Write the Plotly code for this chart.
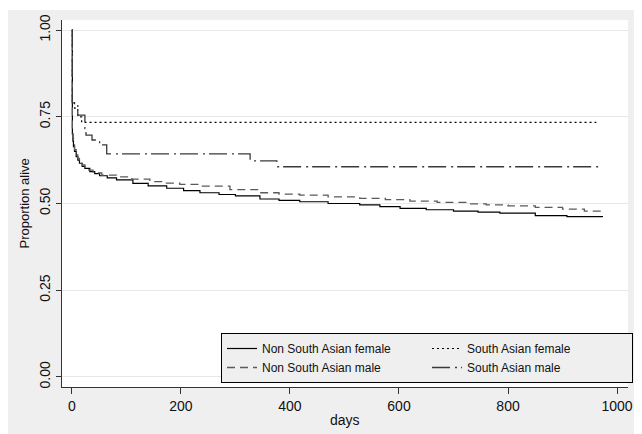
import plotly.graph_objects as go

# Kaplan-Meier survival estimates
nsa_f_days = [0, 1, 2, 3, 5, 8, 11, 14, 19, 24, 33, 42, 51, 65, 82, 112, 140, 174, 205, 235, 270, 300, 345, 380, 418, 470, 528, 565, 602, 650, 700, 745, 785, 850, 908, 973]
nsa_f_surv = [1.0, 0.70, 0.68, 0.664, 0.65, 0.635, 0.625, 0.616, 0.607, 0.601, 0.592, 0.586, 0.58, 0.574, 0.568, 0.558, 0.551, 0.544, 0.537, 0.531, 0.526, 0.522, 0.513, 0.509, 0.505, 0.50, 0.496, 0.491, 0.486, 0.482, 0.478, 0.475, 0.472, 0.465, 0.462, 0.461]

sa_f_days = [0, 1, 5, 11, 18, 962]
sa_f_surv = [1.0, 0.793, 0.775, 0.75, 0.734, 0.734]

nsa_m_days = [0, 1, 2, 3, 5, 8, 11, 14, 19, 24, 31, 39, 55, 82, 110, 143, 170, 198, 235, 290, 345, 380, 418, 470, 528, 575, 620, 670, 724, 760, 800, 850, 900, 940, 973]
nsa_m_surv = [1.0, 0.71, 0.69, 0.672, 0.655, 0.64, 0.63, 0.62, 0.611, 0.605, 0.596, 0.588, 0.582, 0.577, 0.57, 0.563, 0.559, 0.555, 0.55, 0.54, 0.531, 0.527, 0.524, 0.519, 0.515, 0.511, 0.507, 0.503, 0.499, 0.496, 0.493, 0.489, 0.484, 0.478, 0.477]

sa_m_days = [0, 1, 11, 24, 26, 37, 51, 64, 327, 376, 972]
sa_m_surv = [1.0, 0.79, 0.755, 0.716, 0.697, 0.683, 0.669, 0.643, 0.623, 0.606, 0.606]

series_names = ["Non South Asian female", "South Asian female", "Non South Asian male", "South Asian male"]

y_ticks = [0, 0.25, 0.5, 0.75, 1.0]
y_tick_text = ["0.00", "0.25", "0.50", "0.75", "1.00"]
x_ticks = [0, 200, 400, 600, 800, 1000]

x_title = "days"
y_title = "Proportion alive"

styles = [
    dict(color="#000000", width=1.2, dash="solid"),
    dict(color="#000000", width=1.2, dash="2px,3px"),
    dict(color="#5a5a5a", width=1.3, dash="8px,5px"),
    dict(color="#3a3a3a", width=1.3, dash="18px,5px,2px,4px"),
]
data = [(nsa_f_days, nsa_f_surv), (sa_f_days, sa_f_surv), (nsa_m_days, nsa_m_surv), (sa_m_days, sa_m_surv)]

fig = go.Figure()
for (d, s), name, st in zip(data, series_names, styles):
    fig.add_trace(go.Scatter(x=d, y=s, mode="lines", name=name, line=dict(shape="hv", **st)))

font_family = "Liberation Sans, Arial, sans-serif"
W, H = 634, 426

fig.update_layout(
    width=W, height=H,
    margin=dict(l=54, r=14, t=12, b=47, autoexpand=False),
    paper_bgcolor="#efefef",
    plot_bgcolor="white",
    font=dict(family=font_family, size=13, color="#111111"),
    showlegend=True,
    legend=dict(
        orientation="h",
        xref="container", yref="container",
        x=213 / W, y=(H - 325) / H, xanchor="left", yanchor="top",
        bgcolor="#efefef", bordercolor="#000000", borderwidth=1,
        font=dict(size=12, color="#111111"),
        entrywidth=160, entrywidthmode="pixels",
        tracegroupgap=0,
    ),
    xaxis=dict(
        range=[-18, 1020], tickvals=x_ticks, showgrid=False, zeroline=False,
        showline=True, linecolor="#333333", linewidth=1, automargin=False,
        ticks="outside", ticklen=6, tickcolor="#333333",
        tickfont=dict(size=14),
    ),
    yaxis=dict(
        range=[-0.029, 1.029], tickvals=y_ticks, ticktext=y_tick_text,
        showgrid=True, gridcolor="#e8e8e8", gridwidth=1, zeroline=False,
        showline=True, linecolor="#333333", linewidth=1, automargin=False,
        ticks="outside", ticklen=5, tickcolor="#333333",
        tickangle=-90, tickfont=dict(size=14), ticklabelstandoff=0,
    ),
    annotations=[
        dict(text=x_title, xref="paper", yref="paper", x=0.5, y=-0.09,
             xanchor="center", yanchor="middle", showarrow=False, font=dict(size=14)),
        dict(text=y_title, xref="paper", yref="paper", x=-0.0654, y=0.5, textangle=-90,
             xanchor="center", yanchor="middle", showarrow=False, font=dict(size=13)),
    ],
    shapes=[
        dict(type="rect", xref="paper", yref="paper", x0=-0.2, x1=1.5, y0=1.0272, y1=1.2,
             fillcolor="white", line=dict(width=0), layer="below"),
    ],
)

fig.write_html("out.html")
